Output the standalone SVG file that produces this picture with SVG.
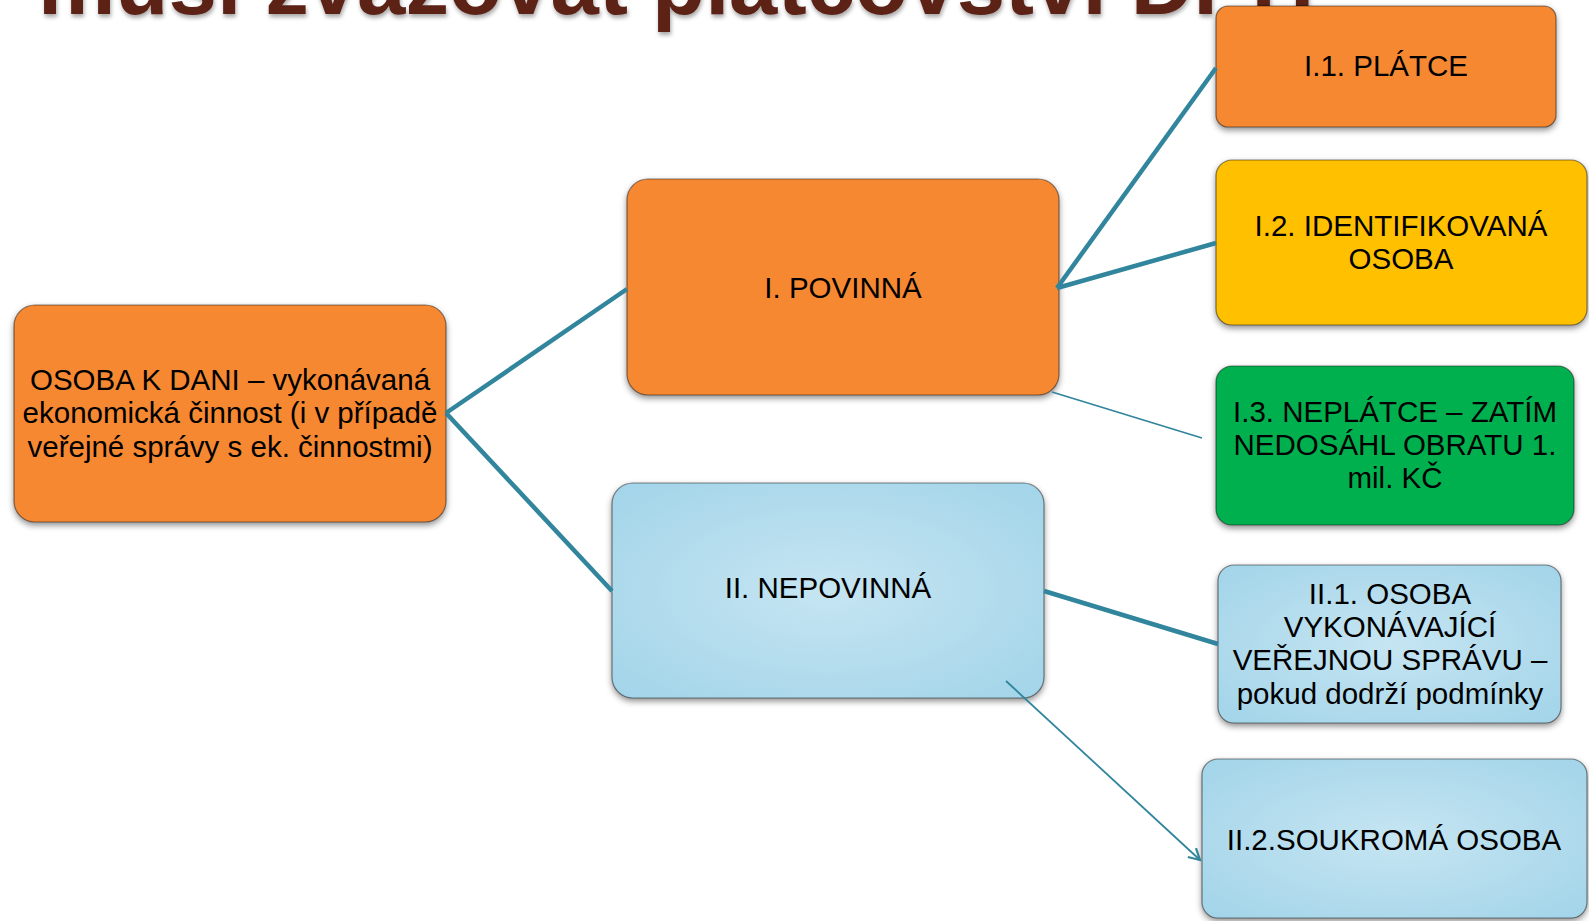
<svg xmlns="http://www.w3.org/2000/svg" width="1589" height="921" viewBox="0 0 1589 921">
  <style>
    .box { stroke: rgba(0,0,0,0.45); stroke-width: 1.2; filter: url(#shadow); }
    .orange { fill: #F68833; }
    .yellow { fill: #FFC000; }
    .green { fill: #00B050; }
    .blue { fill: url(#blueGrad); }
    .lbl { font-family: "Liberation Sans", Arial, sans-serif; font-size: 29.5px; fill: #000; text-anchor: middle; }
    .thick { stroke: #31859C; stroke-width: 4.5; fill: none; }
    .thin { stroke: #31859C; stroke-width: 1.8; fill: none; }
    .title { font-family: "Liberation Sans", Arial, sans-serif; font-size: 87px; font-weight: bold; fill: #5B2317; filter: url(#tshadow); }
  </style>
  <defs>
    <filter id="shadow" x="-10%" y="-10%" width="120%" height="130%">
      <feDropShadow dx="0" dy="3" stdDeviation="3" flood-color="#000" flood-opacity="0.45"/>
    </filter>
    <filter id="tshadow" x="-5%" y="-20%" width="110%" height="150%">
      <feDropShadow dx="1" dy="3" stdDeviation="2" flood-color="#000" flood-opacity="0.35"/>
    </filter>
    <radialGradient id="blueGrad" cx="0.5" cy="0.5" r="0.7">
      <stop offset="0" stop-color="#C6E5F2"/>
      <stop offset="1" stop-color="#A2D4E9"/>
    </radialGradient>
    <marker id="openArrow" markerWidth="14" markerHeight="14" refX="12" refY="7" orient="auto" markerUnits="userSpaceOnUse">
      <path d="M1,1 L12,7 L1,13" fill="none" stroke="#31859C" stroke-width="2.2"/>
    </marker>
  </defs>

  <g id="title">
    <text class="title" x="38" y="14">musí zvažovat plátcovství DPH</text>
  </g>

  <g id="n0">
    <rect class="box orange" x="14" y="305" width="432" height="217" rx="21"/>
    <text class="lbl" x="230" y="390">OSOBA K DANI – vykonávaná</text>
    <text class="lbl" x="230" y="423">ekonomická činnost (i v případě</text>
    <text class="lbl" x="230" y="457">veřejné správy s ek. činnostmi)</text>
  </g>

  <g id="n1">
    <rect class="box orange" x="627" y="179" width="432" height="216" rx="21"/>
    <text class="lbl" x="843" y="298">I. POVINNÁ</text>
  </g>

  <g id="n2">
    <rect class="box blue" x="612" y="483" width="432" height="215" rx="21"/>
    <text class="lbl" x="828" y="598">II. NEPOVINNÁ</text>
  </g>

  <g id="n3">
    <rect class="box orange" x="1216" y="6" width="340" height="121" rx="12"/>
    <text class="lbl" x="1386" y="76">I.1. PLÁTCE</text>
  </g>

  <g id="n4">
    <rect class="box yellow" x="1216" y="160" width="371" height="165" rx="16"/>
    <text class="lbl" x="1401" y="236">I.2. IDENTIFIKOVANÁ</text>
    <text class="lbl" x="1401" y="269">OSOBA</text>
  </g>

  <g id="n5">
    <rect class="box green" x="1216" y="366" width="358" height="159" rx="16"/>
    <text class="lbl" x="1395" y="422">I.3. NEPLÁTCE – ZATÍM</text>
    <text class="lbl" x="1395" y="455">NEDOSÁHL OBRATU 1.</text>
    <text class="lbl" x="1395" y="488">mil. KČ</text>
  </g>

  <g id="n6">
    <rect class="box blue" x="1218" y="565" width="343" height="158" rx="16"/>
    <text class="lbl" x="1390" y="604">II.1. OSOBA</text>
    <text class="lbl" x="1390" y="637">VYKONÁVAJÍCÍ</text>
    <text class="lbl" x="1390" y="670">VEŘEJNOU SPRÁVU –</text>
    <text class="lbl" x="1390" y="704">pokud dodrží podmínky</text>
  </g>

  <g id="n7">
    <rect class="box blue" x="1202" y="759" width="385" height="159" rx="16"/>
    <text class="lbl" x="1394" y="850">II.2.SOUKROMÁ OSOBA</text>
  </g>

  <g id="connectors">
    <line class="thick" x1="446" y1="413" x2="627" y2="289"/>
    <line class="thick" x1="446" y1="413" x2="612" y2="591"/>
    <line class="thick" x1="1057" y1="288" x2="1216" y2="68"/>
    <line class="thick" x1="1057" y1="288" x2="1216" y2="243"/>
    <line class="thin" x1="1052" y1="392" x2="1202" y2="438"/>
    <line class="thick" x1="1044" y1="591" x2="1218" y2="644"/>
    <line class="thin" x1="1006" y1="681" x2="1200" y2="860" marker-end="url(#openArrow)"/>
  </g>
</svg>
